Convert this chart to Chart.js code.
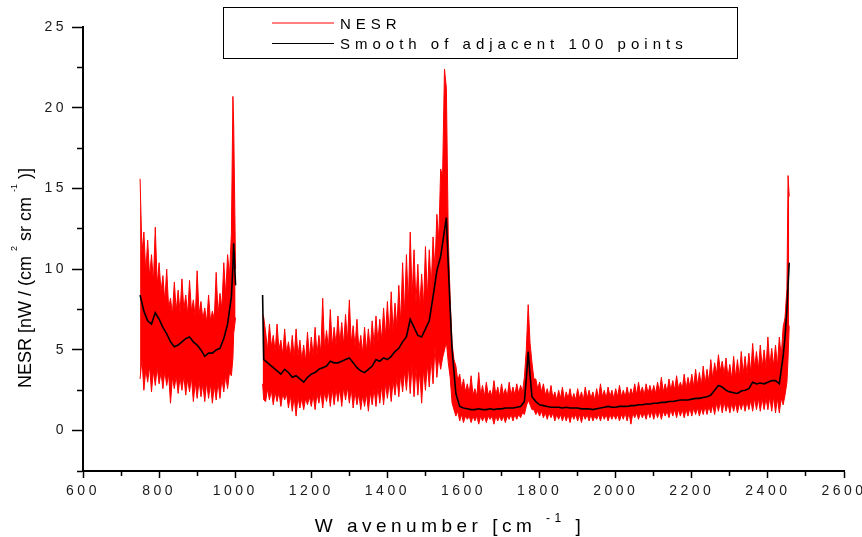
<!DOCTYPE html>
<html>
<head>
<meta charset="utf-8">
<script src="https://cdn.jsdelivr.net/npm/chart.js@4.4.1/dist/chart.umd.min.js"></script>
<style>
    html, body { margin: 0; background: #ffffff; }
    #wrap { position: relative; width: 862px; height: 537px; }
</style>
</head>
<body>
<div id="wrap"><canvas id="nesr"></canvas></div>
<script>
// wavenumber grid of the raw NESR band (cm-1); null at 1036 = gap between bands
const NESR_WAVENUMBER = [
    750, 755, 760, 765, 770, 775, 780, 785, 790, 795,
    800, 805, 810, 815, 820, 825, 830, 835, 840, 845,
    850, 855, 860, 865, 870, 875, 880, 885, 890, 895,
    900, 905, 910, 915, 920, 925, 930, 935, 940, 945,
    950, 955, 960, 965, 970, 975, 980, 985, 990, 994,
    996, 1001,
    1036,
    1072, 1075,
    1080, 1085, 1090, 1095, 1100, 1105, 1110, 1115, 1120, 1125,
    1130, 1135, 1140, 1145, 1150, 1155, 1160, 1165, 1170, 1175,
    1180, 1185, 1190, 1195, 1200, 1205, 1210, 1215, 1220, 1225,
    1230, 1235, 1240, 1245, 1250, 1255, 1260, 1265, 1270, 1275,
    1280, 1285, 1290, 1295, 1300, 1305, 1310, 1315, 1320, 1325,
    1330, 1335, 1340, 1345, 1350, 1355, 1360, 1365, 1370, 1375,
    1380, 1385, 1390, 1395, 1400, 1405, 1410, 1415, 1420, 1425,
    1430, 1435, 1440, 1445, 1450, 1455, 1460, 1465, 1470, 1475,
    1480, 1485, 1490, 1495, 1500, 1505, 1510, 1515, 1520, 1525,
    1530, 1535, 1540, 1545, 1550, 1555, 1560, 1565, 1570, 1575,
    1580, 1585, 1590, 1595, 1600, 1605, 1610, 1615, 1620, 1625,
    1630, 1635, 1640, 1645, 1650, 1655, 1660, 1665, 1670, 1675,
    1680, 1685, 1690, 1695, 1700, 1705, 1710, 1715, 1720, 1725,
    1730, 1735, 1740, 1745, 1750, 1755, 1760, 1765, 1770, 1775,
    1780, 1785, 1790, 1795, 1800, 1805, 1810, 1815, 1820, 1825,
    1830, 1835, 1840, 1845, 1850, 1855, 1860, 1865, 1870, 1875,
    1880, 1885, 1890, 1895, 1900, 1905, 1910, 1915, 1920, 1925,
    1930, 1935, 1940, 1945, 1950, 1955, 1960, 1965, 1970, 1975,
    1980, 1985, 1990, 1995, 2000, 2005, 2010, 2015, 2020, 2025,
    2030, 2035, 2040, 2045, 2050, 2055, 2060, 2065, 2070, 2075,
    2080, 2085, 2090, 2095, 2100, 2105, 2110, 2115, 2120, 2125,
    2130, 2135, 2140, 2145, 2150, 2155, 2160, 2165, 2170, 2175,
    2180, 2185, 2190, 2195, 2200, 2205, 2210, 2215, 2220, 2225,
    2230, 2235, 2240, 2245, 2250, 2255, 2260, 2265, 2270, 2275,
    2280, 2285, 2290, 2295, 2300, 2305, 2310, 2315, 2320, 2325,
    2330, 2335, 2340, 2345, 2350, 2355, 2360, 2365, 2370, 2375,
    2380, 2385, 2390, 2395, 2400, 2405, 2410, 2415, 2420, 2425,
    2430, 2435, 2440, 2445, 2450, 2453, 2456,
];

// upper edge of the noisy NESR trace
const NESR_HIGH = [
    15.6, 11.0, 12.3, 9.8, 11.8, 9.5, 10.9, 9.2, 12.6, 9.0,
    10.4, 8.6, 9.6, 8.0, 10.0, 7.6, 8.2, 7.2, 9.2, 7.4,
    8.7, 7.3, 9.4, 7.5, 8.4, 7.2, 9.3, 7.4, 8.1, 7.0,
    9.9, 7.2, 8.0, 6.9, 7.6, 6.7, 8.4, 6.8, 7.4, 6.9,
    9.8, 7.2, 8.5, 7.6, 10.4, 8.4, 10.9, 9.6, 12.2, 20.7,
    19.0, 10.0,
    null,
    7.2, 7.0,
    6.1, 5.0, 6.6, 5.2, 5.9, 4.9, 6.6, 5.0, 5.6, 4.7,
    6.3, 4.8, 5.5, 4.6, 5.9, 4.5, 6.3, 4.6, 5.6, 4.4,
    5.3, 4.3, 6.1, 4.5, 5.8, 4.6, 6.4, 4.7, 5.9, 4.8,
    8.2, 5.0, 6.2, 5.1, 7.5, 5.2, 6.4, 5.3, 7.1, 5.4,
    6.7, 5.3, 7.2, 5.5, 8.1, 5.4, 6.5, 5.2, 6.9, 5.0,
    5.9, 4.8, 6.4, 4.9, 6.3, 5.0, 6.8, 5.3, 7.1, 5.5,
    6.9, 5.6, 7.6, 5.8, 8.0, 5.9, 8.6, 6.1, 7.9, 6.4,
    9.0, 6.7, 10.4, 7.2, 10.9, 7.8, 12.3, 8.3, 11.2, 7.9,
    10.3, 7.6, 9.7, 7.7, 11.4, 8.2, 11.2, 8.8, 12.0, 10.0,
    13.4, 11.8, 16.2, 15.7, 22.4, 21.2, 12.0, 8.1, 5.4, 4.4,
    4.0, 3.1, 3.5, 2.6, 3.2, 2.4, 2.9, 2.3, 3.4, 2.2,
    2.6, 2.1, 3.6, 2.2, 2.8, 2.1, 3.0, 2.2, 2.5, 2.1,
    3.1, 2.2, 2.7, 2.1, 2.9, 2.2, 2.6, 2.1, 3.0, 2.2,
    2.7, 2.2, 2.9, 2.3, 2.8, 2.4, 3.3, 5.0, 7.8, 5.4,
    4.2, 3.2, 3.2, 2.6, 3.0, 2.4, 2.9, 2.2, 2.6, 2.1,
    2.8, 2.0, 2.4, 1.9, 2.5, 2.0, 2.7, 1.9, 2.4, 2.0,
    2.6, 1.9, 2.3, 1.9, 2.6, 2.0, 2.4, 1.9, 2.7, 2.0,
    2.5, 2.0, 2.4, 1.9, 2.6, 2.0, 2.9, 2.1, 2.5, 2.0,
    2.7, 2.1, 2.5, 2.0, 2.6, 2.1, 2.8, 2.1, 2.5, 2.1,
    2.7, 2.1, 2.6, 2.2, 2.9, 2.2, 3.0, 2.3, 2.7, 2.2,
    2.9, 2.3, 2.8, 2.3, 2.8, 2.3, 3.0, 2.4, 3.3, 2.4,
    2.9, 2.4, 3.2, 2.5, 3.1, 2.5, 3.4, 2.6, 3.0, 2.6,
    3.5, 2.6, 3.3, 2.7, 3.5, 2.7, 3.8, 2.8, 3.6, 2.8,
    4.0, 2.9, 3.8, 3.0, 4.4, 3.2, 4.2, 3.5, 4.7, 3.7,
    4.3, 3.5, 4.5, 3.3, 4.1, 3.2, 4.6, 3.3, 4.4, 3.3,
    4.9, 3.5, 4.6, 3.5, 4.8, 3.6, 5.4, 3.9, 4.9, 3.8,
    5.3, 3.9, 5.0, 3.9, 5.8, 4.0, 5.1, 4.0, 5.3, 4.0,
    5.8, 4.6, 6.4, 7.0, 8.8, 15.8, 14.5,
];

// lower edge of the noisy NESR trace
const NESR_LOW = [
    3.2, 4.4, 2.5, 3.8, 3.0, 4.0, 2.4, 3.7, 2.8, 3.9,
    2.9, 3.6, 2.6, 3.7, 2.8, 3.5, 1.7, 3.3, 2.6, 3.4,
    2.3, 3.3, 2.5, 3.4, 2.2, 3.2, 2.4, 3.3, 1.8, 3.0,
    2.0, 3.1, 2.1, 2.9, 1.8, 3.0, 2.0, 2.9, 1.7, 2.8,
    1.9, 3.0, 2.0, 3.2, 2.4, 3.4, 2.6, 3.6, 3.4, 4.5,
    6.0, 7.0,
    null,
    2.9, 1.9,
    1.8, 2.6, 1.9, 2.5, 1.6, 2.4, 1.8, 2.4, 1.5, 2.3,
    1.9, 2.3, 1.4, 2.2, 1.2, 2.1, 0.9, 2.1, 1.4, 2.0,
    1.3, 2.0, 1.6, 2.1, 1.5, 2.2, 1.3, 2.3, 1.7, 2.4,
    1.4, 2.4, 1.8, 2.5, 1.5, 2.6, 1.6, 2.6, 1.8, 2.6,
    1.5, 2.7, 1.9, 2.7, 1.7, 2.6, 1.4, 2.4, 1.6, 2.3,
    1.3, 2.2, 1.5, 2.3, 1.2, 2.4, 1.6, 2.6, 1.5, 2.7,
    1.7, 2.8, 1.6, 2.9, 2.0, 3.0, 1.8, 3.1, 2.2, 3.3,
    2.1, 3.5, 2.4, 3.7, 2.5, 4.0, 2.3, 4.1, 2.1, 3.9,
    2.2, 3.7, 1.7, 3.8, 2.5, 4.1, 2.7, 4.5, 2.9, 5.2,
    3.3, 4.6, 3.8, 4.5, 5.0, 5.5, 4.2, 3.3, 1.7, 1.3,
    0.9, 1.2, 0.6, 1.0, 0.5, 0.9, 0.7, 0.9, 0.5, 0.9,
    0.6, 0.9, 0.4, 0.9, 0.6, 0.9, 0.5, 0.9, 0.7, 0.9,
    0.4, 0.9, 0.6, 0.9, 0.6, 0.9, 0.5, 0.9, 0.7, 1.0,
    0.6, 1.0, 0.7, 1.0, 0.8, 1.1, 1.0, 1.5, 1.9, 1.6,
    1.3, 1.3, 1.0, 1.2, 0.9, 1.2, 0.8, 1.1, 0.7, 1.1,
    0.8, 1.1, 0.6, 1.0, 0.7, 1.0, 0.6, 1.0, 0.6, 1.0,
    0.5, 1.0, 0.7, 1.0, 0.6, 1.0, 0.5, 1.0, 0.7, 1.0,
    0.6, 1.0, 0.6, 0.9, 0.7, 1.0, 0.6, 1.0, 0.7, 1.0,
    0.6, 1.0, 0.7, 1.0, 0.7, 1.0, 0.6, 1.0, 0.7, 1.1,
    0.6, 1.1, 0.4, 1.1, 0.8, 1.1, 0.7, 1.1, 0.8, 1.1,
    0.7, 1.2, 0.8, 1.2, 0.7, 1.2, 0.8, 1.2, 0.7, 1.2,
    0.9, 1.2, 0.8, 1.3, 0.9, 1.3, 0.8, 1.3, 0.9, 1.3,
    0.8, 1.3, 0.9, 1.4, 0.9, 1.4, 1.0, 1.4, 0.9, 1.4,
    1.0, 1.5, 1.0, 1.5, 1.1, 1.6, 1.0, 1.7, 1.2, 1.8,
    1.1, 1.8, 1.2, 1.7, 1.1, 1.7, 1.2, 1.7, 1.1, 1.7,
    1.3, 1.8, 1.2, 1.8, 1.3, 1.9, 1.2, 2.0, 1.3, 2.0,
    1.2, 2.0, 1.3, 2.0, 1.3, 2.1, 1.2, 2.1, 1.1, 2.0,
    1.1, 2.0, 1.6, 2.2, 3.0, 4.5, 6.5,
];

// wavenumber grid of the smoothed curve
const SMOOTH_WAVENUMBER = [
    750, 760, 770, 780, 790, 800, 810, 820, 830, 840,
    850, 860, 870, 880, 890, 900, 910, 920, 930, 940,
    950, 960, 970, 980, 990, 994, 996, 1001,
    1036,
    1072, 1075, 1080, 1090, 1100, 1110, 1120, 1130, 1140, 1150,
    1160, 1170, 1180, 1190, 1200, 1210, 1220, 1230, 1240, 1250,
    1260, 1270, 1280, 1290, 1300, 1310, 1320, 1330, 1340, 1350,
    1360, 1370, 1380, 1390, 1400, 1410, 1420, 1430, 1440, 1450,
    1460, 1470, 1480, 1490, 1500, 1510, 1520, 1530, 1540, 1545,
    1550, 1555, 1560, 1565, 1570, 1580, 1590, 1600, 1610, 1620,
    1630, 1640, 1650, 1660, 1670, 1680, 1690, 1700, 1710, 1720,
    1730, 1740, 1750, 1760, 1765, 1770, 1775, 1780, 1790, 1800,
    1810, 1820, 1830, 1840, 1850, 1860, 1870, 1880, 1890, 1900,
    1910, 1920, 1930, 1940, 1950, 1960, 1970, 1980, 1990, 2000,
    2010, 2020, 2030, 2040, 2050, 2060, 2070, 2080, 2090, 2100,
    2110, 2120, 2130, 2140, 2150, 2160, 2170, 2180, 2190, 2200,
    2210, 2220, 2230, 2240, 2250, 2260, 2270, 2280, 2290, 2300,
    2310, 2320, 2330, 2340, 2350, 2360, 2370, 2380, 2390, 2400,
    2410, 2420, 2430, 2440, 2445, 2450, 2453, 2456,
];

// "Smooth of adjacent 100 points"
const SMOOTH = [
    8.4, 7.4, 6.8, 6.6, 7.3, 6.9, 6.4, 6.0, 5.5, 5.2,
    5.3, 5.5, 5.7, 5.8, 5.5, 5.3, 5.0, 4.6, 4.8, 4.8,
    5.0, 5.1, 5.7, 6.6, 8.3, 10.2, 11.6, 9.0,
    null,
    8.4, 4.4, 4.3, 4.1, 3.9, 3.7, 3.5, 3.8, 3.6, 3.3,
    3.4, 3.2, 3.0, 3.3, 3.5, 3.6, 3.8, 3.9, 4.0, 4.3,
    4.2, 4.2, 4.3, 4.4, 4.5, 4.2, 3.9, 3.7, 3.6, 3.8,
    4.0, 4.4, 4.3, 4.5, 4.4, 4.6, 4.9, 5.1, 5.5, 5.8,
    6.9, 6.4, 5.9, 5.8, 6.3, 6.8, 8.3, 9.9, 10.8, 11.6,
    12.4, 13.2, 10.2, 7.5, 5.0, 2.3, 1.5, 1.4, 1.35, 1.3,
    1.3, 1.35, 1.3, 1.3, 1.35, 1.3, 1.35, 1.35, 1.4, 1.4,
    1.4, 1.45, 1.5, 1.8, 3.2, 4.9, 3.4, 2.1, 1.8, 1.6,
    1.55, 1.5, 1.45, 1.45, 1.45, 1.4, 1.45, 1.4, 1.4, 1.4,
    1.35, 1.35, 1.35, 1.3, 1.35, 1.4, 1.45, 1.5, 1.45, 1.45,
    1.5, 1.5, 1.5, 1.55, 1.55, 1.6, 1.6, 1.65, 1.65, 1.7,
    1.7, 1.75, 1.75, 1.8, 1.8, 1.85, 1.9, 1.9, 1.9, 1.95,
    2.0, 2.0, 2.05, 2.1, 2.2, 2.5, 2.8, 2.7, 2.5, 2.4,
    2.35, 2.3, 2.45, 2.5, 2.6, 3.0, 2.9, 2.95, 2.9, 3.0,
    3.1, 3.1, 2.9, 4.6, 5.8, 7.5, 9.0, 10.4,
];

const LEGEND_LABELS = ["NESR", "Smooth of adjacent 100 points"];

const RED = "#ff0000";
const INK = "#000000";
const FONT = "'Liberation Sans', Arial, sans-serif";

function points(xs, values) {
    return xs.map((x, i) => ({ x, y: values[i] }));
}

// draws a row of text pieces (main text + superscripts) centred on 0
function drawRuns(ctx, runs, spacing) {
    ctx.letterSpacing = spacing;
    const widths = runs.map((r) => {
        ctx.font = `${r.size}px ${FONT}`;
        return ctx.measureText(r.text).width;
    });
    let x = -widths.reduce((a, b) => a + b, 0) / 2;
    runs.forEach((r, i) => {
        ctx.font = `${r.size}px ${FONT}`;
        ctx.fillText(r.text, x, -(r.rise || 0));
        x += widths[i];
    });
}

const decorations = {
    id: "decorations",
    beforeDraw(chart) {
        chart.ctx.letterSpacing = "3.5px";
    },
    afterDraw(chart) {
        const ctx = chart.ctx;
        ctx.save();
        ctx.fillStyle = INK;
        ctx.textAlign = "left";
        ctx.textBaseline = "alphabetic";

        // legend box
        ctx.strokeStyle = INK;
        ctx.lineWidth = 1;
        ctx.strokeRect(223.5, 7.5, 514, 51);
        ctx.strokeStyle = RED;
        ctx.beginPath();
        ctx.moveTo(272, 23);
        ctx.lineTo(334, 23);
        ctx.stroke();
        ctx.strokeStyle = INK;
        ctx.beginPath();
        ctx.moveTo(272, 43.5);
        ctx.lineTo(334, 43.5);
        ctx.stroke();
        ctx.letterSpacing = "5px";
        ctx.font = `15px ${FONT}`;
        ctx.fillText(LEGEND_LABELS[0], 340, 28.5);
        ctx.fillText(LEGEND_LABELS[1], 340, 49);

        // x axis title
        ctx.save();
        ctx.translate(450, 531.5);
        drawRuns(ctx, [
            { text: "W avenumber [cm ", size: 19 },
            { text: "-1", size: 12, rise: 10 },
            { text: " ]", size: 19 },
        ], "4.5px");
        ctx.restore();

        // y axis title
        ctx.save();
        ctx.translate(31, 278);
        ctx.rotate(-Math.PI / 2);
        drawRuns(ctx, [
            { text: "NESR [nW / (cm ", size: 18 },
            { text: "2", size: 9, rise: 14 },
            { text: " sr cm ", size: 18 },
            { text: "-1", size: 9, rise: 14 },
            { text: " )]", size: 18 },
        ], "0px");
        ctx.restore();

        ctx.restore();
    },
};

const tickFont = { family: FONT, size: 14 };

new Chart(document.getElementById("nesr"), {
    type: "line",
    data: {
        datasets: [
            {
                label: LEGEND_LABELS[0],
                data: points(NESR_WAVENUMBER, NESR_HIGH),
                borderColor: RED,
                backgroundColor: RED,
                borderWidth: 1,
                fill: "+1",
                order: 1,
            },
            {
                label: "NESR low",
                data: points(NESR_WAVENUMBER, NESR_LOW),
                borderColor: RED,
                borderWidth: 1,
                fill: false,
                order: 2,
            },
            {
                label: LEGEND_LABELS[1],
                data: points(SMOOTH_WAVENUMBER, SMOOTH),
                borderColor: INK,
                borderWidth: 1.6,
                fill: false,
                order: 0,
            },
        ],
    },
    options: {
        responsive: true,
        maintainAspectRatio: false,
        animation: false,
        spanGaps: false,
        elements: { point: { radius: 0 }, line: { tension: 0 } },
        layout: { padding: { top: 27, right: 18, bottom: 0, left: 0 } },
        plugins: {
            legend: { display: false },
            tooltip: { enabled: false },
        },
        scales: {
            x: {
                type: "linear",
                min: 600,
                max: 2600,
                afterFit(scale) {
                    scale.height = 66;
                    scale.paddingLeft = 0;
                    scale.paddingRight = 0;
                },
                ticks: {
                    stepSize: 100,
                    autoSkip: false,
                    maxRotation: 0,
                    padding: 5,
                    color: "#1a1a1a",
                    font: tickFont,
                    callback: (v) => (v % 200 === 0 ? String(v) : ""),
                },
                grid: {
                    drawOnChartArea: false,
                    tickLength: 7,
                    tickColor: INK,
                    tickWidth: 1.5,
                    tickBorderDash: (ctx) => (ctx.tick && ctx.tick.value % 200 !== 0 ? [4, 100] : []),
                },
                border: { display: true, color: INK, width: 2 },
            },
            y: {
                min: -2.5,
                max: 25,
                afterFit(scale) {
                    scale.width = 83;
                    scale.paddingTop = 0;
                    scale.paddingBottom = 0;
                },
                ticks: {
                    stepSize: 2.5,
                    autoSkip: false,
                    padding: 5,
                    color: "#1a1a1a",
                    font: tickFont,
                    callback: (v) => (v % 5 === 0 ? String(v) : ""),
                },
                grid: {
                    drawOnChartArea: false,
                    tickLength: 11,
                    tickColor: INK,
                    tickWidth: 1.5,
                    tickBorderDash: (ctx) => (ctx.tick && ctx.tick.value % 5 !== 0 ? [0, 5, 6, 100] : []),
                },
                border: { display: true, color: INK, width: 2 },
            },
        },
    },
    plugins: [decorations],
});
</script>
</body>
</html>
